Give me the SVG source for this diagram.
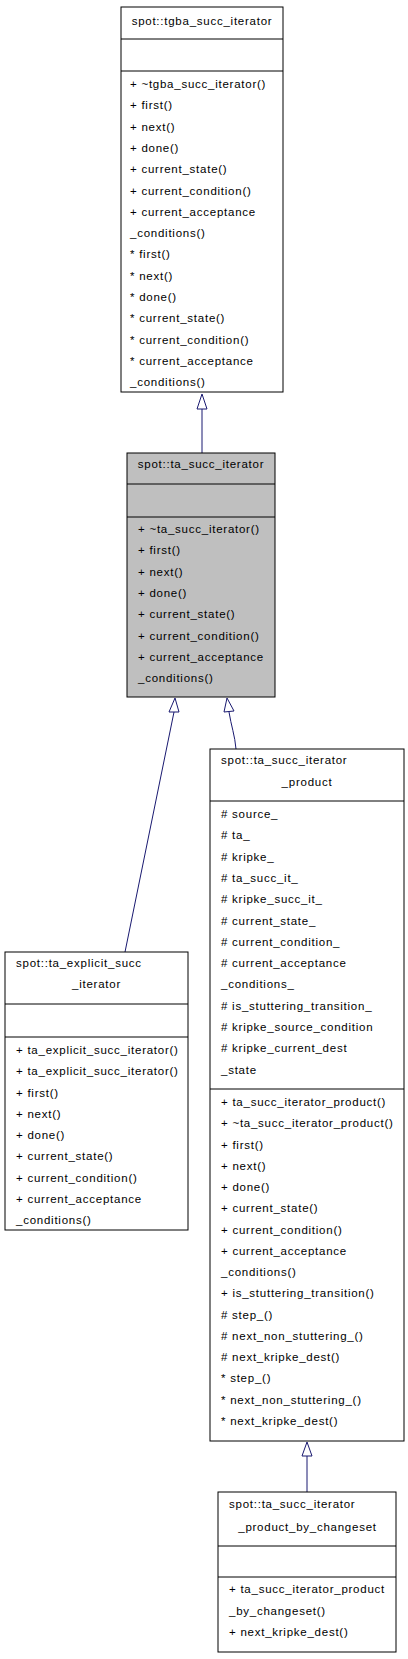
<svg xmlns="http://www.w3.org/2000/svg" width="408" height="1659" viewBox="0 0 408 1659">
<style>
.box{fill:#ffffff;stroke:#000000;stroke-width:1}
.grey{fill:#bfbfbf}
.sep{stroke:#000000;stroke-width:1}
text{font-family:"Liberation Sans",Arial,sans-serif;font-size:11.5px;letter-spacing:0.75px;fill:#000000}
.c{text-anchor:middle}
.edge{fill:none;stroke:#191970;stroke-width:1}
.head{fill:#ffffff;stroke:#191970;stroke-width:1}
</style>
<rect width="408" height="1659" fill="#ffffff"/>
<g id="connectors">
<path class="edge" d="M202,409 L202,453"/>
<polygon class="head" points="202,394 197,409 207,409"/>
<path class="edge" d="M174,712 L125,952"/>
<polygon class="head" points="175,698 169,712 179,712"/>
<path class="edge" d="M229,712 C231,725 235,736 236,749"/>
<polygon class="head" points="227,698 224,712 234,711"/>
<path class="edge" d="M307,1456 L307,1492"/>
<polygon class="head" points="307,1442 302,1456 312,1456"/>
</g>
<g id="tgba_succ_iterator">
<rect class="box" x="121" y="7" width="162" height="385"/>
<line class="sep" x1="121" y1="39" x2="283" y2="39"/>
<line class="sep" x1="121" y1="71" x2="283" y2="71"/>
<text class="c" x="202" y="25">spot::tgba_succ_iterator</text>
<text x="130" y="88">+ ~tgba_succ_iterator()</text>
<text x="130" y="109.3">+ first()</text>
<text x="130" y="130.6">+ next()</text>
<text x="130" y="151.9">+ done()</text>
<text x="130" y="173.2">+ current_state()</text>
<text x="130" y="194.5">+ current_condition()</text>
<text x="130" y="215.8">+ current_acceptance</text>
<text x="130" y="237.1">_conditions()</text>
<text x="130" y="258.4">* first()</text>
<text x="130" y="279.7">* next()</text>
<text x="130" y="301">* done()</text>
<text x="130" y="322.3">* current_state()</text>
<text x="130" y="343.6">* current_condition()</text>
<text x="130" y="364.9">* current_acceptance</text>
<text x="130" y="386.2">_conditions()</text>
</g>
<g id="ta_succ_iterator">
<rect class="box grey" x="127" y="453" width="148" height="244"/>
<line class="sep" x1="127" y1="484" x2="275" y2="484"/>
<line class="sep" x1="127" y1="517" x2="275" y2="517"/>
<text class="c" x="201" y="468">spot::ta_succ_iterator</text>
<text x="138" y="533">+ ~ta_succ_iterator()</text>
<text x="138" y="554.3">+ first()</text>
<text x="138" y="575.6">+ next()</text>
<text x="138" y="596.9">+ done()</text>
<text x="138" y="618.2">+ current_state()</text>
<text x="138" y="639.5">+ current_condition()</text>
<text x="138" y="660.8">+ current_acceptance</text>
<text x="138" y="682.1">_conditions()</text>
</g>
<g id="ta_succ_iterator_product">
<rect class="box" x="210" y="749" width="194" height="692"/>
<line class="sep" x1="210" y1="801" x2="404" y2="801"/>
<line class="sep" x1="210" y1="1089" x2="404" y2="1089"/>
<text x="221" y="764">spot::ta_succ_iterator</text>
<text class="c" x="307" y="786">_product</text>
<text x="221" y="818"># source_</text>
<text x="221" y="839.3"># ta_</text>
<text x="221" y="860.6"># kripke_</text>
<text x="221" y="881.9"># ta_succ_it_</text>
<text x="221" y="903.2"># kripke_succ_it_</text>
<text x="221" y="924.5"># current_state_</text>
<text x="221" y="945.8"># current_condition_</text>
<text x="221" y="967.1"># current_acceptance</text>
<text x="221" y="988.4">_conditions_</text>
<text x="221" y="1009.7"># is_stuttering_transition_</text>
<text x="221" y="1031"># kripke_source_condition</text>
<text x="221" y="1052.3"># kripke_current_dest</text>
<text x="221" y="1073.6">_state</text>
<text x="221" y="1106">+ ta_succ_iterator_product()</text>
<text x="221" y="1127.25">+ ~ta_succ_iterator_product()</text>
<text x="221" y="1148.5">+ first()</text>
<text x="221" y="1169.75">+ next()</text>
<text x="221" y="1191">+ done()</text>
<text x="221" y="1212.25">+ current_state()</text>
<text x="221" y="1233.5">+ current_condition()</text>
<text x="221" y="1254.75">+ current_acceptance</text>
<text x="221" y="1276">_conditions()</text>
<text x="221" y="1297.25">+ is_stuttering_transition()</text>
<text x="221" y="1318.5"># step_()</text>
<text x="221" y="1339.75"># next_non_stuttering_()</text>
<text x="221" y="1361"># next_kripke_dest()</text>
<text x="221" y="1382.25">* step_()</text>
<text x="221" y="1403.5">* next_non_stuttering_()</text>
<text x="221" y="1424.75">* next_kripke_dest()</text>
</g>
<g id="ta_explicit_succ_iterator">
<rect class="box" x="5" y="952" width="183" height="278"/>
<line class="sep" x1="5" y1="1004" x2="188" y2="1004"/>
<line class="sep" x1="5" y1="1037" x2="188" y2="1037"/>
<text x="16" y="967">spot::ta_explicit_succ</text>
<text class="c" x="96.5" y="988">_iterator</text>
<text x="16" y="1054">+ ta_explicit_succ_iterator()</text>
<text x="16" y="1075.25">+ ta_explicit_succ_iterator()</text>
<text x="16" y="1096.5">+ first()</text>
<text x="16" y="1117.75">+ next()</text>
<text x="16" y="1139">+ done()</text>
<text x="16" y="1160.25">+ current_state()</text>
<text x="16" y="1181.5">+ current_condition()</text>
<text x="16" y="1202.75">+ current_acceptance</text>
<text x="16" y="1224">_conditions()</text>
</g>
<g id="ta_succ_iterator_product_by_changeset">
<rect class="box" x="218" y="1492" width="178" height="160"/>
<line class="sep" x1="218" y1="1546" x2="396" y2="1546"/>
<line class="sep" x1="218" y1="1577" x2="396" y2="1577"/>
<text x="229" y="1508">spot::ta_succ_iterator</text>
<text class="c" x="307.5" y="1531">_product_by_changeset</text>
<text x="229" y="1593">+ ta_succ_iterator_product</text>
<text x="229" y="1614.5">_by_changeset()</text>
<text x="229" y="1636">+ next_kripke_dest()</text>
</g>
</svg>
